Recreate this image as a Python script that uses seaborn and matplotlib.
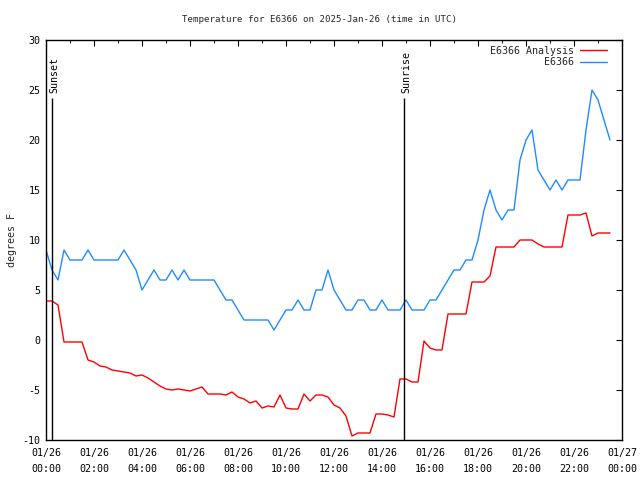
import matplotlib
matplotlib.use("Agg")
import matplotlib.pyplot as plt
import matplotlib.dates as mdates
import matplotlib.transforms as mtransforms
import pandas as pd
import seaborn as sns

# ---- data ----
start_time = "2025-01-26 00:00"
step = "15min"
observed = [9, 7, 6, 9, 8, 8, 8, 9, 8, 8, 8, 8, 8, 9, 8, 7, 5, 6, 7, 6,
            6, 7, 6, 7, 6, 6, 6, 6, 6, 5, 4, 4, 3, 2, 2, 2, 2, 2, 1, 2,
            3, 3, 4, 3, 3, 5, 5, 7, 5, 4, 3, 3, 4, 4, 3, 3, 4, 3, 3, 3,
            4, 3, 3, 3, 4, 4, 5, 6, 7, 7, 8, 8, 10, 13, 15, 13, 12, 13, 13, 18,
            20, 21, 17, 16, 15, 16, 15, 16, 16, 16, 21, 25, 24, 22, 20]
analysis = [3.9, 3.9, 3.5, -0.2, -0.2, -0.2, -0.2, -2.0, -2.2, -2.6,
            -2.7, -3.0, -3.1, -3.2, -3.3, -3.6, -3.5, -3.8, -4.2, -4.6,
            -4.9, -5.0, -4.9, -5.0, -5.1, -4.9, -4.7, -5.4, -5.4, -5.4,
            -5.5, -5.2, -5.7, -5.9, -6.3, -6.1, -6.8, -6.6, -6.7, -5.5,
            -6.8, -6.9, -6.9, -5.4, -6.1, -5.5, -5.5, -5.7, -6.5, -6.8,
            -7.6, -9.6, -9.3, -9.3, -9.3, -7.4, -7.4, -7.5, -7.7, -3.9,
            -3.9, -4.2, -4.2, -0.1, -0.8, -1.0, -1.0, 2.6, 2.6, 2.6,
            2.6, 5.8, 5.8, 5.8, 6.4, 9.3, 9.3, 9.3, 9.3, 10.0,
            10.0, 10.0, 9.6, 9.3, 9.3, 9.3, 9.3, 12.5, 12.5, 12.5,
            12.7, 10.4, 10.7, 10.7, 10.7]
series_names = ["E6366 Analysis", "E6366"]
series_colors = ["#ff0000", "#1e8cff"]
sun_events = ["Sunset", "Sunrise"]
sun_times = ["2025-01-26 00:16", "2025-01-26 14:56"]
y_ticks = [-10, -5, 0, 5, 10, 15, 20, 25, 30]
title = "Temperature for E6366 on 2025-Jan-26 (time in UTC)"
y_label = "degrees F"

times = pd.date_range(start_time, periods=len(observed), freq=step)
df = pd.concat([
    pd.DataFrame({"time": times, "temp": analysis, "series": series_names[0]}),
    pd.DataFrame({"time": times, "temp": observed, "series": series_names[1]}),
])

sns.set_style("white")
plt.rcParams["font.family"] = ["DejaVu Sans Mono", "DejaVu Sans"]
plt.rcParams["axes.unicode_minus"] = False
fs = 7.2

fig = plt.figure(figsize=(6.4, 4.8), dpi=100)
ax = fig.add_axes([46 / 640, 1 - 440 / 480, 576 / 640, 400 / 480])

sns.lineplot(data=df, x="time", y="temp", hue="series", hue_order=series_names,
             palette=series_colors, linewidth=1.0, ax=ax, legend=True)

x0 = pd.Timestamp("2025-01-26 00:00")
x1 = pd.Timestamp("2025-01-27 00:00")
ax.set_xlim(x0, x1)
ax.set_ylim(-10, 30)
ax.set_yticks(y_ticks)

shift = mtransforms.ScaledTranslation(1.5 / 100, 0, fig.dpi_scale_trans)
for name, t in zip(sun_events, sun_times):
    tt = pd.Timestamp(t)
    ax.vlines(tt, -10, 24.2, color="black", linewidth=1.0)
    ax.text(tt, 24.7, name, rotation=90, ha="center", va="bottom", fontsize=fs,
            color="black", transform=ax.transData + shift)

ax.xaxis.set_major_locator(mdates.HourLocator(byhour=range(0, 24, 2)))
ax.xaxis.set_minor_locator(mdates.HourLocator())
ax.xaxis.set_major_formatter(mdates.DateFormatter("%m/%d\n%H:%M"))

ax.tick_params(axis="both", which="major", direction="in", length=4, width=0.8,
               top=True, right=True, labelsize=fs, colors="black", pad=4)
ax.tick_params(axis="x", which="major", pad=6)
ax.tick_params(axis="both", which="minor", direction="in", length=2, width=0.8,
               top=True, right=True)
ax.tick_params(axis="y", which="minor", left=False, right=False)
for lbl in ax.get_xticklabels():
    lbl.set_linespacing(1.65)

for sp in ax.spines.values():
    sp.set_color("black")
    sp.set_linewidth(1.0)
    sp.set_visible(True)

ax.set_xlabel("")
ax.set_ylabel(y_label, fontsize=fs, labelpad=4)
fig.text(0.5, 1 - 19 / 480, title, fontsize=6.6, ha="center", va="center")
ax.grid(False)

handles, labels = ax.get_legend_handles_labels()
ax.legend(handles, labels, loc="upper right", frameon=False, markerfirst=False,
          fontsize=fs, handlelength=2.7, handletextpad=0.6, labelspacing=0.15,
          borderaxespad=0.2, bbox_to_anchor=(0.985, 1.0))

fig.savefig("out.png", dpi=100, facecolor="white")
